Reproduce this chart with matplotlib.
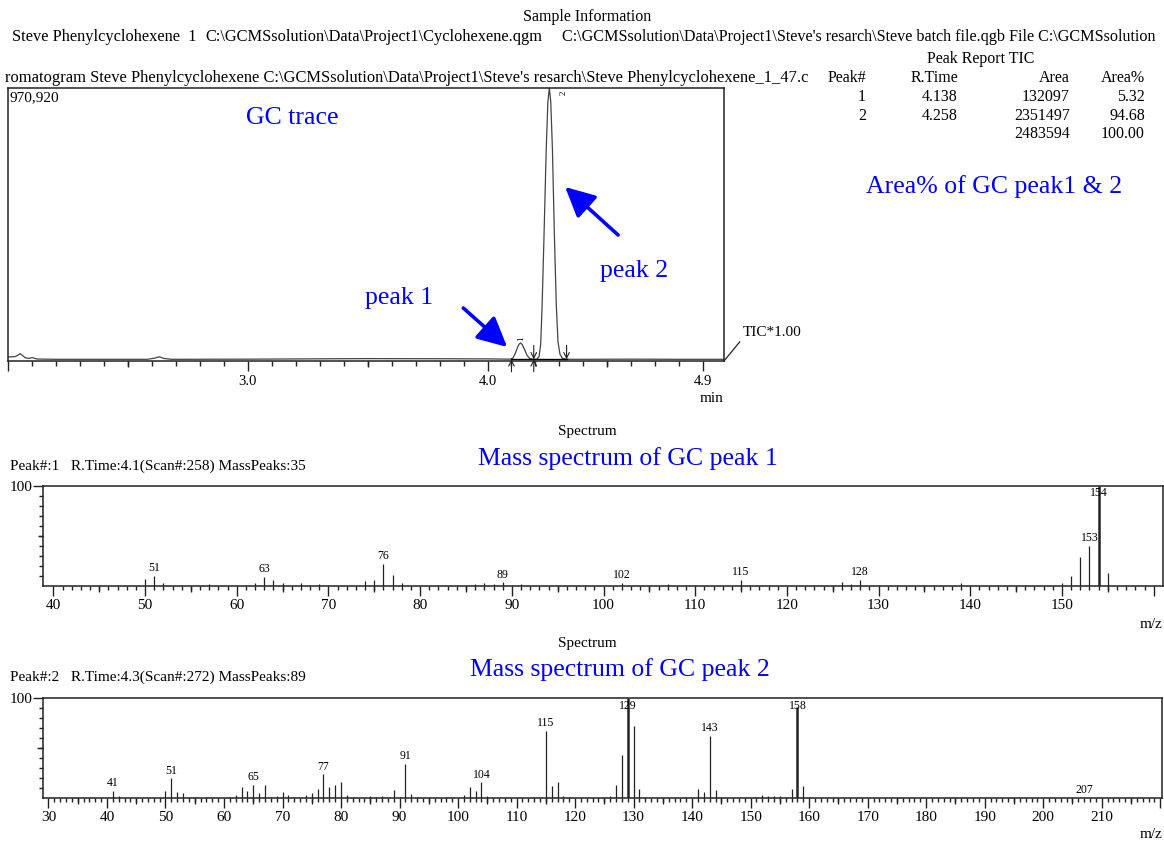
import numpy as np
import matplotlib.pyplot as plt

plt.rcParams['font.family'] = ['Liberation Serif', 'DejaVu Serif']

W, H = 1164, 841

# GC trace (retention time in min, TIC counts)
gc_time = [2.00, 2.03, 2.05, 2.07, 2.085, 2.10, 2.12, 2.20, 2.40, 2.58, 2.61, 2.63, 2.65, 2.68,
           3.00, 3.50, 3.80, 4.00, 4.09,
           4.105, 4.115, 4.125, 4.132, 4.138, 4.145, 4.155, 4.165, 4.175, 4.185, 4.193,
           4.205, 4.215, 4.222, 4.228, 4.236, 4.245, 4.252, 4.258, 4.264, 4.271, 4.279,
           4.287, 4.294, 4.302, 4.312, 4.33, 4.40, 4.60, 4.80, 4.987]
gc_tic = [14000, 16000, 26000, 12000, 9000, 12000, 7000, 6000, 6000, 6000, 10000, 15000, 9000, 6000,
          6500, 8500, 8000, 7500, 6500,
          9000, 25000, 48000, 60000, 64000, 58000, 40000, 20000, 10000, 7000, 6000,
          6000, 15000, 60000, 200000, 450000, 750000, 920000, 970000, 920000, 750000, 450000,
          200000, 70000, 25000, 10000, 6000, 6000, 6500, 6000, 6000]
gc_top = 970920

# peak report table
rep_peak = ['1', '2', '']
rep_rt = ['4.138', '4.258', '']
rep_area = ['132097', '2351497', '2483594']
rep_pct = ['5.32', '94.68', '100.00']

# mass spectrum of peak 1
ms1_mz = [50, 51, 52, 57, 62, 63, 64, 65, 67, 69, 74, 75, 76, 77, 78, 86, 87, 88, 89, 91,
          102, 107, 115, 126, 127, 128, 139, 150, 151, 152, 153, 154, 155]
ms1_int = [6.5, 10, 3, 1.5, 2.7, 9, 5.5, 3, 2.3, 2, 4.7, 6, 22, 10.5, 3, 1.7, 2.3, 2, 3.3, 1.3,
           2.7, 1.7, 6, 3.7, 2, 6, 2.7, 3, 9.5, 29, 40, 100, 13]
ms1_lab = [51, 63, 76, 89, 102, 115, 128, 153, 154]

# mass spectrum of peak 2
ms2_mz = [41, 42, 50, 51, 52, 53, 54, 55, 57, 58, 61, 62, 63, 64, 65, 66, 67, 68, 69, 70,
          71, 72, 74, 75, 76, 77, 78, 79, 80, 81, 82, 85, 86, 87, 88, 89, 90, 91, 92, 93,
          98, 99, 101, 102, 103, 104, 105, 113, 114, 115, 116, 117, 118, 119, 126, 127, 128,
          129, 130, 131, 132, 134, 139, 141, 142, 143, 144, 145, 151, 152, 153, 154, 155,
          156, 157, 158, 159, 160, 207]
ms2_int = [7.3, 2.3, 7.3, 20, 6.3, 5, 1.7, 1.7, 1.7, 1.7, 1.7, 3.3, 11.3, 7.3, 13.3, 5.3, 13, 1.7, 2.3, 6,
           3.3, 1.3, 3.3, 5, 9.3, 24, 11.3, 13, 16.3, 3.3, 1.7, 2.3, 1.7, 2.3, 1.7, 8.3, 1.7, 34.7, 4, 1.7,
           1.3, 1.3, 3.3, 11.3, 7.3, 16, 2, 1.3, 1.3, 67.3, 12.7, 16, 2.3, 1.7, 2.3, 13, 43,
           100, 72.7, 9.3, 1.7, 1, 1.7, 9.7, 6, 62.3, 8.3, 1.7, 1.7, 3.3, 2.7, 2.3, 2.3,
           1.7, 9.3, 91, 12.3, 1.7, 0.8]
ms2_lab = [41, 51, 65, 77, 91, 104, 115, 129, 143, 158, 207]

BLUE = '#0000ff'
INK = '#222222'


def box(x0, y0, x1, y1):
    # pixel box (top-left origin) -> figure fraction rect
    return [x0 / W, 1 - y1 / H, (x1 - x0) / W, (y1 - y0) / H]


def ptxt(x, y, s, **kw):
    kw.setdefault('va', 'center')
    return fig.text(x / W, 1 - y / H, s, **kw)


fig = plt.figure(figsize=(W / 100, H / 100), dpi=100)

# ---- header text
ptxt(587, 17, 'Sample Information', ha='center', fontsize=11.5)
ptxt(12, 37, 'Steve Phenylcyclohexene  1', fontsize=11.8)
ptxt(205, 37, 'C:\\GCMSsolution\\Data\\Project1\\Cyclohexene.qgm', fontsize=11.8)
ptxt(562, 37, "C:\\GCMSsolution\\Data\\Project1\\Steve's resarch\\Steve batch file.qgb File C:\\GCMSsolution",
     fontsize=11.65)
ptxt(5, 78, "romatogram Steve Phenylcyclohexene C:\\GCMSsolution\\Data\\Project1\\Steve's resarch"
     "\\Steve Phenylcyclohexene_1_47.c", fontsize=11.9)

# ---- peak report table
ptxt(981, 59, 'Peak Report TIC', ha='center', fontsize=11.5)
cols = [(866, 'Peak#', rep_peak), (958, 'R.Time', rep_rt), (1070, 'Area', rep_area), (1145, 'Area%', rep_pct)]
for cx, head, vals in cols:
    ptxt(cx, 78, head, ha='right', fontsize=11.5)
    for i, v in enumerate(vals):
        ptxt(cx, 97 + i * 18.5, v, ha='right', fontsize=11.5)

ptxt(994, 187, 'Area% of GC peak1 & 2', ha='center', fontsize=18.5, color=BLUE)

# ---- GC trace
ax = fig.add_axes(box(8.3, 87.5, 724, 361))
ax.plot(gc_time, gc_tic, color='#444444', lw=0.9)
ax.set_xlim(2.0, 4.987)
ax.set_ylim(0, gc_top)
ax.set_yticks([])
ax.set_xticks([2.0, 3.0, 4.0, 4.9])
ax.set_xticklabels(['', '3.0', '4.0', '4.9'])
ax.set_xticks(np.arange(2.1, 4.95, 0.1), minor=True)
ax.tick_params(axis='x', which='major', length=7.5, width=1, pad=2.5, labelsize=10.5, color=INK)
ax.tick_params(axis='x', which='minor', length=3.5, width=1, color=INK)
ax.vlines([2.5, 3.5, 4.5], -0.022, 0, transform=ax.get_xaxis_transform(), color=INK, lw=1, clip_on=False)
for sp in ax.spines.values():
    sp.set_linewidth(1.1)
    sp.set_color(INK)

# integration baseline and peak start/end marks
ax.plot([4.10, 4.33], [6000, 6000], color='k', lw=1.0)
arr = dict(arrowstyle='->,head_length=0.4,head_width=0.2', color=INK, lw=0.8, shrinkA=0, shrinkB=0)
ax.annotate('', xy=(4.10, 6000), xytext=(0, -9), textcoords='offset points', arrowprops=arr,
            annotation_clip=False)
ax.annotate('', xy=(4.193, 6000), xytext=(0, -9), textcoords='offset points', arrowprops=arr,
            annotation_clip=False)
ax.annotate('', xy=(4.193, 6000), xytext=(0, 10), textcoords='offset points', arrowprops=arr,
            annotation_clip=False)
ax.annotate('', xy=(4.33, 6000), xytext=(0, 10), textcoords='offset points', arrowprops=arr,
            annotation_clip=False)
ax.text(4.139, 72000, '1', rotation=90, fontsize=6.5, ha='center', va='bottom')
ax.text(4.318, gc_top * 0.99, '2', rotation=90, fontsize=6.5, ha='center', va='top')

# TIC leader
ax.plot([1.0, 1.022], [0, 0.07], transform=ax.transAxes, color=INK, lw=0.9, clip_on=False)
ptxt(743, 333, 'TIC*1.00', fontsize=11)
ptxt(10, 98, '970,920', fontsize=11)
ptxt(712, 399, 'min', ha='center', fontsize=11)

# blue notes
ax.text(3.187, 862600, 'GC trace', ha='center', va='center', fontsize=18.5, color=BLUE)
ax.text(3.632, 223600, 'peak 1', ha='center', va='center', fontsize=18.5, color=BLUE)
ax.text(4.611, 319500, 'peak 2', ha='center', va='center', fontsize=18.5, color=BLUE)
barr = dict(arrowstyle='-|>,head_length=1.0,head_width=0.5', color=BLUE, lw=2.6,
            mutation_scale=18, shrinkA=0, shrinkB=0)
ax.annotate('', xy=(4.082, 49700), xytext=(3.899, 188000), arrowprops=barr)
ax.annotate('', xy=(4.324, 617700), xytext=(4.545, 447300), arrowprops=barr)


# ---- mass spectra
def draw_ms(ax, mz, inten, labs, xlim, first, last):
    lw = [1.8 if h > 85 else 0.9 for h in inten]
    ax.vlines(mz, 0, inten, color=INK, lw=lw)
    for m, h in zip(mz, inten):
        if m in labs:
            if h > 85:
                ax.text(m, 98.5, str(m), ha='center', va='top', fontsize=8.5)
            else:
                ax.text(m, h + 1.5, str(m), ha='center', va='bottom', fontsize=8.5)
    ax.set_xlim(*xlim)
    ax.set_ylim(0, 100)
    major = np.arange(first, last + 1, 10)
    ax.set_xticks(major)
    ax.set_xticklabels([str(v) for v in major[:-1]] + [''])
    ax.set_xticks(np.arange(first, last + 1, 1), minor=True)
    fives = np.arange(first + 5, last, 10)
    ax.vlines(fives, -0.06, 0, transform=ax.get_xaxis_transform(), color=INK, lw=1, clip_on=False)
    ax.tick_params(axis='x', which='major', length=7, width=1, pad=2.5, labelsize=11, color=INK)
    ax.tick_params(axis='x', which='minor', length=3, width=1, color=INK)
    ax.set_yticks([100])
    ax.set_yticklabels(['100'])
    ax.set_yticks(np.arange(10, 100, 10), minor=True)
    ax.tick_params(axis='y', which='major', length=7, width=1, pad=0.5, labelsize=11, color=INK)
    ax.tick_params(axis='y', which='minor', length=3, width=1, color=INK)
    ax.hlines(50, -0.005, 0, transform=ax.get_yaxis_transform(), color=INK, lw=1, clip_on=False)
    for sp in ax.spines.values():
        sp.set_linewidth(1.1)
        sp.set_color(INK)


ptxt(587, 431, 'Spectrum', ha='center', fontsize=11)
ptxt(10, 466, 'Peak#:1   R.Time:4.1(Scan#:258) MassPeaks:35', fontsize=11)
ptxt(628, 459, 'Mass spectrum of GC peak 1', ha='center', fontsize=18.5, color=BLUE)
ax1 = fig.add_axes(box(43.3, 485.7, 1163.3, 585.7))
draw_ms(ax1, ms1_mz, ms1_int, ms1_lab, (38.9, 161.05), 40, 160)
ptxt(1162, 624, 'm/z', ha='right', fontsize=11)

ptxt(587, 643, 'Spectrum', ha='center', fontsize=11)
ptxt(10, 677, 'Peak#:2   R.Time:4.3(Scan#:272) MassPeaks:89', fontsize=11)
ptxt(620, 670, 'Mass spectrum of GC peak 2', ha='center', fontsize=18.5, color=BLUE)
ax2 = fig.add_axes(box(42.6, 698.3, 1162, 798.3))
draw_ms(ax2, ms2_mz, ms2_int, ms2_lab, (29.0, 220.3), 30, 220)
ptxt(1162, 834, 'm/z', ha='right', fontsize=11)

fig.savefig('out.png', dpi=100)
